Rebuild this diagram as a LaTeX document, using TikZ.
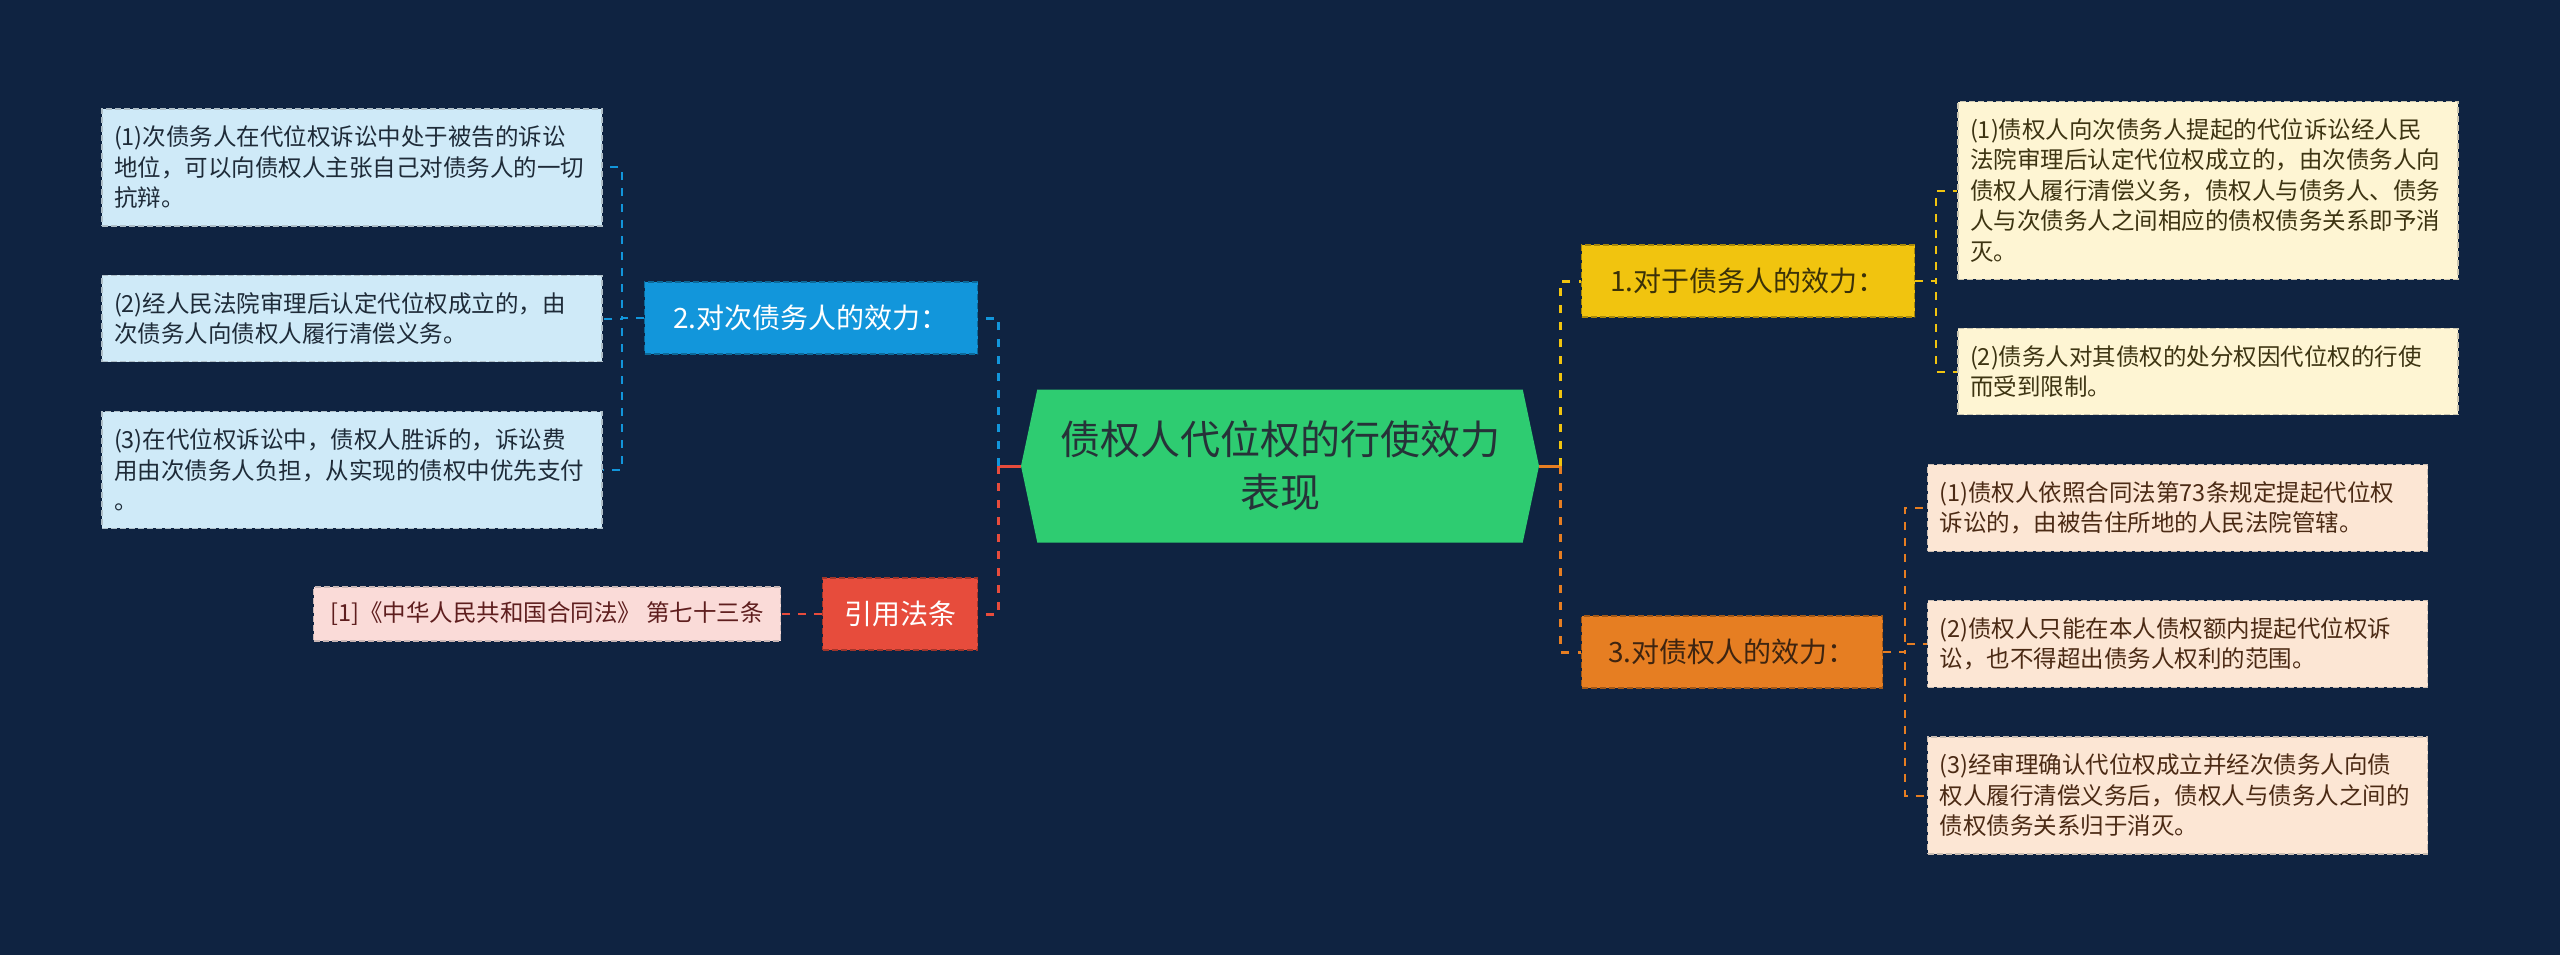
\documentclass[tikz,border=0pt]{standalone}
\usepackage{fontspec}
\usepackage{tikz}
\usetikzlibrary{shapes.symbols}
\newfontfamily\cjk{Noto Sans CJK SC}

\definecolor{bg}{HTML}{0F2341}
\definecolor{mint}{HTML}{2ECC71}
\definecolor{minttxt}{HTML}{263238}
\definecolor{gold}{HTML}{F1C40F}
\definecolor{goldtxt}{HTML}{3B3108}
\definecolor{sky}{HTML}{1296DB}
\definecolor{amber}{HTML}{E67E22}
\definecolor{ambertxt}{HTML}{3E2410}
\definecolor{tomato}{HTML}{E74C3C}
\definecolor{icy}{HTML}{CFEAF8}
\definecolor{icytxt}{HTML}{1E2B38}
\definecolor{cream}{HTML}{FEF5D3}
\definecolor{creamtxt}{HTML}{3D3412}
\definecolor{peach}{HTML}{FCE6D4}
\definecolor{peachtxt}{HTML}{4B2A14}
\definecolor{blush}{HTML}{FADBD8}
\definecolor{blushtxt}{HTML}{5E1E1E}

\begin{document}
\begin{tikzpicture}[x=1pt,y=-1pt,
  hub/.style={signal, signal to=west and east, signal pointer angle=156, fill=mint, text=minttxt,
    minimum width=518pt, minimum height=153pt, align=center, font=\cjk\fontsize{40}{53}\selectfont},
  topic/.style={rectangle, draw, dash pattern=on 6pt off 3pt, line width=1.3pt,
    minimum height=72pt, font=\cjk\fontsize{28}{34}\selectfont},
  leaf/.style={rectangle, draw, dash pattern=on 6pt off 3pt, line width=1.3pt, align=left,
    text width=476pt, inner xsep=12pt, inner ysep=17pt, font=\cjk\fontsize{23.5}{30.5}\selectfont},
  trunk/.style={line width=3pt, dash pattern=on 8pt off 9pt},
  twig/.style={line width=2pt, dash pattern=on 8pt off 8pt}]

\fill[bg] (0,0) rectangle (2560,955);
\useasboundingbox (0,0) rectangle (2560,955);

\node[hub] (hub) at (1280,466) {债权人代位权的行使效力\\表现};

\node[topic, fill=gold, draw=gold!70!black, text=goldtxt, minimum width=333pt] (eff1) at (1748,281) {1.对于债务人的效力：};
\node[topic, fill=sky, draw=sky!70!black, text=white, minimum width=333pt] (eff2) at (811,318) {2.对次债务人的效力：};
\node[topic, fill=amber, draw=amber!70!black, text=ambertxt, minimum width=301pt] (eff3) at (1732,652) {3.对债权人的效力：};
\node[topic, fill=tomato, draw=tomato!70!black, text=white, minimum width=155pt] (law) at (900,614) {引用法条};

\node[leaf, fill=icy, draw=icy!60!gray, text=icytxt] (l1) at (352,167.5)
  {(1)次债务人在代位权诉讼中处于被告的诉讼\\地位，可以向债权人主张自己对债务人的一切\\抗辩。};
\node[leaf, fill=icy, draw=icy!60!gray, text=icytxt] (l2) at (352,318.5)
  {(2)经人民法院审理后认定代位权成立的，由\\次债务人向债权人履行清偿义务。};
\node[leaf, fill=icy, draw=icy!60!gray, text=icytxt] (l3) at (352,470)
  {(3)在代位权诉讼中，债权人胜诉的，诉讼费\\用由次债务人负担，从实现的债权中优先支付\\。};

\node[leaf, fill=cream, draw=cream!60!gray, text=creamtxt] (a1) at (2208,190.5)
  {(1)债权人向次债务人提起的代位诉讼经人民\\法院审理后认定代位权成立的，由次债务人向\\债权人履行清偿义务，债权人与债务人、债务\\人与次债务人之间相应的债权债务关系即予消\\灭。};
\node[leaf, fill=cream, draw=cream!60!gray, text=creamtxt] (a2) at (2208,371.5)
  {(2)债务人对其债权的处分权因代位权的行使\\而受到限制。};

\node[leaf, fill=peach, draw=peach!60!gray, text=peachtxt] (b1) at (2177.5,508)
  {(1)债权人依照合同法第73条规定提起代位权\\诉讼的，由被告住所地的人民法院管辖。};
\node[leaf, fill=peach, draw=peach!60!gray, text=peachtxt] (b2) at (2177.5,644)
  {(2)债权人只能在本人债权额内提起代位权诉\\讼，也不得超出债务人权利的范围。};
\node[leaf, fill=peach, draw=peach!60!gray, text=peachtxt] (b3) at (2177.5,795.5)
  {(3)经审理确认代位权成立并经次债务人向债\\权人履行清偿义务后，债权人与债务人之间的\\债权债务关系归于消灭。};

\node[rectangle, draw=blush!60!gray, dash pattern=on 6pt off 3pt, line width=1.3pt, fill=blush, text=blushtxt,
  minimum width=467pt, minimum height=54pt, font=\cjk\fontsize{23.5}{28}\selectfont] (ref) at (547,614)
  {[1]《中华人民共和国合同法》 第七十三条};

\draw[line width=3pt, tomato] (hub.west) -- ++(-22,0) coordinate (hl);
\draw[line width=3pt, amber] (hub.east) -- ++(21,0) coordinate (hr);
\draw[trunk, sky] (hl) |- (eff2.east);
\draw[trunk, tomato] (hl) |- (law.east);
\draw[trunk, gold] (hr) |- (eff1.west);
\draw[trunk, amber] (hr) |- (eff3.west);

\foreach \c in {l1,l2,l3}
  \draw[twig, sky] (eff2.west) -- ++(-22,0) |- (\c.east);
\foreach \c in {a1,a2}
  \draw[twig, gold] (eff1.east) -- ++(21,0) |- (\c.west);
\foreach \c in {b1,b2,b3}
  \draw[twig, amber] (eff3.east) -- ++(22,0) |- (\c.west);
\draw[twig, tomato] (law.west) -- (ref.east);

\end{tikzpicture}
\end{document}
